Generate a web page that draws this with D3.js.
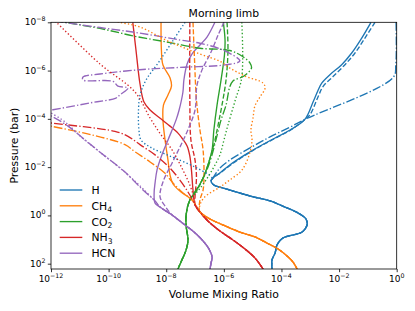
<!DOCTYPE html>
<html><head><meta charset="utf-8">
<script src="https://cdn.jsdelivr.net/npm/d3@7"></script>
<style>body{margin:0;background:#fff} text{font-family:"DejaVu Sans",sans-serif;fill:#000}</style>
</head><body><svg id="c" width="415" height="311"></svg>
<script>
const species = ["H","CH4","CO2","NH3","HCN"];
const colors = ["#1f77b4","#ff7f0e","#2ca02c","#d62728","#9467bd"];
const xTicks = [1e-12,1e-10,1e-8,1e-6,1e-4,1e-2,1];
const yTicks = [1e-8,1e-6,1e-4,1e-2,1,1e2];

// [volume mixing ratio, pressure (bar)]
const hLower = [[3.6e-7,3.75e-2],[4.5e-7,5.5e-2],[1.1e-6,7.7e-2],[8.1e-6,0.157],[4.0e-5,0.25],[1.32e-4,0.45],[3.7e-4,0.79],[7.1e-4,1.41],[7.7e-4,2.5],[5.2e-4,4.9],[1.13e-4,8.6],[7.0e-5,16.8],[6.0e-5,36],[4.7e-5,70],[4.7e-5,166]];
const hSolid = [[0.128,1e-8],[0.061,4.5e-8],[0.0274,1.87e-7],[0.0123,5.7e-7],[4.8e-3,1.48e-6],[2.5e-3,3.3e-6],[1.9e-3,6.2e-6],[1.27e-3,1.9e-5],[6.5e-4,1.05e-4],[2.0e-4,2.9e-4],[6.0e-5,6.2e-4],[1.8e-5,1.33e-3],[5.4e-6,3.1e-3],[1.6e-6,8.1e-3],[7.3e-7,1.75e-2],[4.2e-7,2.8e-2]];
const hDashed = [[0.176,1e-8],[0.079,4.5e-8],[0.0356,1.87e-7],[0.016,5.7e-7],[6.3e-3,1.73e-6],[2.8e-3,4.5e-6],[1.9e-3,1.16e-5],[9.8e-4,6.7e-5],[6.5e-4,1.05e-4],[2.3e-4,2.7e-4],[7e-5,5.8e-4],[2.1e-5,1.25e-3],[6.3e-6,2.9e-3],[1.9e-6,7.5e-3],[8e-7,1.65e-2],[4.2e-7,2.8e-2]];
const hDashDot = [[0.95,1e-8],[0.93,5.7e-7],[0.76,1.9e-6],[6.5e-4,1.05e-4],[2.0e-4,2.2e-4],[4.0e-5,5.6e-4],[8.1e-6,1.6e-3],[1.6e-6,5.1e-3],[7.3e-7,1.09e-2],[4.2e-7,2.8e-2]];
const hDotted = [[4.5e-8,1e-8],[1.6e-8,6.5e-8],[5.2e-9,4.9e-7],[2.0e-9,2.45e-6],[1.23e-9,1.03e-5],[1.09e-9,4.3e-5],[1.13e-9,2.9e-4],[1.33e-9,7.5e-4],[2.75e-9,1.47e-3],[1.35e-8,3.5e-3],[1.0e-7,9.9e-3],[3.9e-7,2.8e-2]];

const chLower = [[1.48e-7,0.72],[3.3e-7,1.41],[1.1e-6,2.7],[3.6e-6,4.9],[1.2e-5,7.8],[3.1e-5,13.9],[7.6e-5,24.6],[1.56e-4,48],[2.5e-4,85],[3.5e-4,166]];
const chSolid = [[6.6e-9,1e-8],[6.8e-9,1.4e-7],[7.7e-9,5.9e-7],[1.35e-8,2.0e-6],[1.52e-8,4.4e-6],[1.15e-8,1.03e-5],[8.0e-9,2.7e-5],[7.7e-9,1.1e-4],[9.1e-9,7.5e-4],[1.15e-8,5.1e-3],[1.35e-8,2.1e-2],[1.72e-8,5.0e-2],[3.25e-8,0.107],[5.7e-8,0.17],[8.5e-8,0.25]];
const chDashed = [[8.5e-8,1e-8],[9.6e-8,3.6e-7],[1.12e-7,1.66e-5],[1.48e-7,2.9e-4],[1.9e-7,1.95e-3],[2.05e-7,2.1e-2],[1.9e-7,8.9e-2],[1.48e-7,0.23]];
const chDashDot = [[4.2e-13,1.57e-4],[1.0e-12,2.0e-4],[2.4e-11,4.5e-4],[3.7e-10,1.17e-3],[8.2e-10,2.3e-3],[2.75e-9,6.1e-3],[9.1e-9,1.8e-2],[1.6e-8,4.1e-2],[3.5e-8,0.107],[8.5e-8,0.25]];
const chDotted = [[5e-11,6.4e-9],[2.5e-10,1e-8],[1.23e-9,1.57e-8],[1.15e-8,6.0e-8],[1.48e-7,2.06e-7],[7.3e-7,4.1e-7],[1.6e-6,7.8e-7],[5.4e-6,1.68e-6],[2.3e-5,3.3e-6],[2.7e-5,5.3e-6],[1.8e-5,1.24e-5],[1.2e-5,2.9e-5],[1.03e-5,9.2e-5],[8.7e-6,2.9e-4],[9.5e-6,7.5e-4],[8.1e-6,2.4e-3],[4.3e-6,1.3e-2],[1.6e-6,3.4e-2],[7.3e-7,6.7e-2],[2.2e-7,0.17],[1.48e-7,0.37]];

const co2Lower = [[6.6e-8,0.23],[4.9e-8,0.96],[5.0e-8,3.3],[5.7e-8,10.4],[4.9e-8,27],[3.25e-8,85],[2.56e-8,166]];
const co2Solid = [[9.6e-7,1e-8],[1.1e-6,5.4e-8],[1.05e-6,2.26e-7],[8.0e-7,2.45e-6],[5.8e-7,2.7e-5],[4.5e-7,2.9e-4],[3.9e-7,1.95e-3],[2.8e-7,8.1e-3],[1.9e-7,2.8e-2],[1.08e-7,9.7e-2]];
const co2Dashed = [[1.29e-6,1e-8],[1.39e-6,1.4e-7],[1.19e-6,2.45e-6],[8.6e-7,2.7e-5],[6.3e-7,1.8e-4],[4.5e-7,1.2e-3],[3.05e-7,6.1e-3],[2.05e-7,2.3e-2],[1.17e-7,8.9e-2]];
const co2DashDot = [[4.2e-13,6.8e-9],[5.0e-11,1.8e-8],[8.2e-10,3.8e-8],[1.35e-8,6.9e-8],[1.48e-7,1.19e-7],[1.6e-6,1.47e-7],[4.6e-6,2.66e-7],[8.1e-6,4.9e-7],[9.1e-6,7.8e-7],[5.0e-6,1.68e-6],[2.07e-6,2.7e-6],[1.6e-6,4.8e-6],[1.19e-6,2.7e-5],[8.0e-7,1.1e-4],[5.3e-7,7.5e-4],[3.6e-7,4.2e-3],[2.4e-7,1.6e-2],[1.37e-7,6.0e-2]];
const co2Dotted = [[4.2e-6,1e-8],[4.2e-6,1.85e-6],[2.44e-6,1.82e-5],[1.39e-6,1.8e-4],[1.01e-6,7.5e-4],[7.3e-7,3.1e-3],[4.5e-7,9.9e-3],[2.4e-7,3.4e-2],[1.26e-7,9.7e-2]];

const nh3Lower = [[1.0e-7,0.37],[1.48e-7,0.72],[2.8e-7,1.7],[7.3e-7,4.4],[2.07e-6,10.4],[5.4e-6,24.6],[1.2e-5,58],[2.3e-5,166]];
const nh3Solid = [[6.9e-10,1e-8],[8.9e-10,1.4e-7],[1.23e-9,3.6e-6],[1.69e-9,2.0e-5],[2.75e-9,4.3e-5],[6.0e-9,9.2e-5],[1.35e-8,2.0e-4],[2.56e-8,3.9e-4],[3.5e-8,6.2e-4],[5.3e-8,1.33e-3],[6.6e-8,3.5e-3],[7.5e-8,1.3e-2],[8.5e-8,8.9e-2]];
const nh3Dashed = [[6.6e-8,1e-8],[6.6e-8,1.66e-5],[7.2e-8,7.5e-4],[1.0e-7,5.1e-3],[1.12e-7,2.56e-2],[1.0e-7,0.17]];
const nh3DashDot = [[4.2e-13,1.29e-4],[1.0e-12,1.49e-4],[1.66e-10,3.3e-4],[4.7e-10,5.3e-4],[1.23e-9,1.17e-3],[4.1e-9,3.1e-3],[1.35e-8,1.09e-2],[3.5e-8,4.5e-2],[6.6e-8,0.143]];
const nh3Dotted = [[9.3e-13,5.5e-9],[5.0e-11,5.3e-7],[8.2e-10,7.7e-6],[2.75e-9,9.2e-5],[6.0e-9,3.9e-4],[1.6e-8,1.95e-3],[3.5e-8,1.09e-2],[6.6e-8,5.5e-2],[9.2e-8,0.19]];

const hcnLower = [[6.1e-9,0.45],[1.6e-8,0.96],[4.5e-8,2.5],[1.0e-7,5.3],[1.9e-7,11.5],[3.05e-7,24.6],[3.9e-7,53],[3.6e-7,94],[3.3e-7,166]];
const hcnSolid = [[4.9e-7,1e-8],[2.6e-7,4.1e-8],[1.48e-7,8.7e-8],[7.8e-8,2.06e-7],[5.3e-8,5.3e-7],[4.1e-8,2.45e-6],[3.8e-8,7.7e-6],[2.8e-8,4.3e-5],[2.2e-8,1.1e-4],[1.15e-8,7.5e-4],[7.1e-9,3.1e-3],[4.8e-9,1.3e-2],[4.1e-9,4.5e-2],[3.8e-9,0.118],[4.1e-9,0.31]];
const hcnDashed = [[1.01e-6,1e-8],[6.3e-7,3.4e-8],[3.6e-7,1.7e-7],[1.74e-7,9.5e-7],[1.17e-7,4.0e-6],[1.0e-7,4.3e-5],[6.2e-8,2.2e-4],[3.5e-8,1.0e-3],[1.6e-8,6.7e-3],[7.7e-9,4.1e-2],[6.1e-9,0.17],[9.1e-9,0.41]];
const hcnDashDot = [[1.38e-12,8.4e-9],[3.9e-12,1.07e-8],[5.0e-11,1.64e-8],[1.2e-9,2.8e-8],[3.0e-8,5.4e-8],[1.48e-7,7.4e-8],[9.3e-7,1.4e-7],[3.6e-6,4.0e-7],[1.26e-6,5.7e-7],[3.0e-8,7.4e-7],[1.2e-9,9.2e-7],[5.0e-11,1.39e-6],[1.29e-11,1.85e-6],[1.29e-11,2.45e-6],[1.42e-10,2.8e-6],[2.1e-10,4.4e-6],[4.7e-10,5.3e-6],[2.5e-10,1.0e-5],[1.8e-10,1.37e-5],[2.2e-11,2.2e-5],[1.17e-12,4.2e-5],[6.2e-13,4.7e-5],[6.2e-13,6.3e-5],[1e-12,7.6e-5],[3.9e-12,2.0e-4],[1.51e-11,7.5e-4],[7.5e-11,3.5e-3],[3.7e-10,1.6e-2],[1.56e-9,8.9e-2],[4.1e-9,0.25]];
const hcnDotted = [[6.2e-13,4.3e-5],[1e-12,5.7e-5],[3.1e-12,1.35e-4],[1.02e-11,5.1e-4],[5.0e-11,2.4e-3],[2.5e-10,1.09e-2],[1.23e-9,6.0e-2],[3.5e-9,0.21]];

const profiles = [
  [hSolid.concat(hLower), hDashed.concat(hLower), hDashDot.concat(hLower), hDotted.concat(hLower)],
  [chSolid.concat(chLower), chDashed.concat(chLower), chDashDot.concat(chLower), chDotted.concat(chLower)],
  [co2Solid.concat(co2Lower), co2Dashed.concat(co2Lower), co2DashDot.concat(co2Lower), co2Dotted.concat(co2Lower)],
  [nh3Solid.concat(nh3Lower), nh3Dashed.concat(nh3Lower), nh3DashDot.concat(nh3Lower), nh3Dotted.concat(nh3Lower)],
  [hcnSolid.concat(hcnLower), hcnDashed.concat(hcnLower.slice(1)), hcnDashDot.concat(hcnLower), hcnDotted.concat(hcnLower)]
];

const L = 51, R = 396.7, T = 22.3, B = 269;
const svg = d3.select("#c");
const x = d3.scaleLog().domain([1e-12, 1]).range([L, R]);
const y = d3.scaleLog().domain([1e-8, 166]).range([T, B]);
const lw = 1.35;
const dashes = [null, `${3.7*lw},${1.6*lw}`, `${6.4*lw},${1.6*lw},${1*lw},${1.6*lw}`, `${1*lw},${1.65*lw}`];

svg.append("defs").append("clipPath").attr("id","clip")
  .append("rect").attr("x",L).attr("y",T).attr("width",R-L).attr("height",B-T);

const line = d3.line().x(d=>x(d[0])).y(d=>y(d[1])).curve(d3.curveCatmullRom.alpha(0.5));
const g = svg.append("g").attr("clip-path","url(#clip)");
for (let s = 0; s < 4; s++) {
  species.forEach((sp, i) => {
    g.append("path").attr("d", line(profiles[i][s]))
      .attr("fill","none").attr("stroke",colors[i]).attr("stroke-width",lw)
      .attr("stroke-dasharray", dashes[s]).attr("stroke-linejoin","round");
  });
}

// axes
const xAxis = d3.axisBottom(x).tickValues(xTicks).tickFormat("").tickSize(3.2).tickSizeOuter(0);
const yAxis = d3.axisLeft(y).tickValues(yTicks).tickFormat("").tickSize(3.2).tickSizeOuter(0);
const gx = svg.append("g").attr("transform",`translate(0,${B})`).call(xAxis);
const gy = svg.append("g").attr("transform",`translate(${L},0)`).call(yAxis);
[gx, gy].forEach(a => { a.select(".domain").remove(); a.selectAll("line").attr("stroke","#000").attr("stroke-width",0.8); });
svg.append("rect").attr("x",L).attr("y",T).attr("width",R-L).attr("height",B-T)
  .attr("fill","none").attr("stroke","#000").attr("stroke-width",0.8);

function label(t, v, fs) {
  const e = Math.round(Math.log10(v));
  t.append("tspan").text("10");
  t.append("tspan").attr("dy",-4).attr("font-size",fs*0.7).text(e < 0 ? "\u2212" + (-e) : String(e));
}
xTicks.forEach(v => {
  const t = svg.append("text").attr("x", x(v)).attr("y", 281.5).attr("text-anchor","middle").attr("font-size",9);
  label(t, v, 9);
});
yTicks.forEach(v => {
  const t = svg.append("text").attr("x", 45.5).attr("y", y(v) + 3).attr("text-anchor","end").attr("font-size",9);
  label(t, v, 9);
});

svg.append("text").attr("x",(L+R)/2).attr("y",17.3).attr("text-anchor","middle").attr("font-size",10.8).text("Morning limb");
svg.append("text").attr("x",(L+R)/2).attr("y",297.5).attr("text-anchor","middle").attr("font-size",10.8).text("Volume Mixing Ratio");
svg.append("text").attr("transform",`translate(17.5,${(T+B)/2}) rotate(-90)`).attr("text-anchor","middle").attr("font-size",10.8).text("Pressure (bar)");

// legend
const legendLabels = [["H",""],["CH","4"],["CO","2"],["NH","3"],["HCN",""]];
legendLabels.forEach((lab, i) => {
  const yy = 190 + i * 15.8;
  svg.append("line").attr("x1",59.7).attr("x2",82.3).attr("y1",yy).attr("y2",yy)
    .attr("stroke",colors[i]).attr("stroke-width",lw);
  const t = svg.append("text").attr("x",91.5).attr("y",yy+3.9).attr("font-size",10.8);
  t.append("tspan").text(lab[0]);
  if (lab[1]) t.append("tspan").attr("dy",2.2).attr("font-size",7.6).text(lab[1]);
});
</script></body></html>
